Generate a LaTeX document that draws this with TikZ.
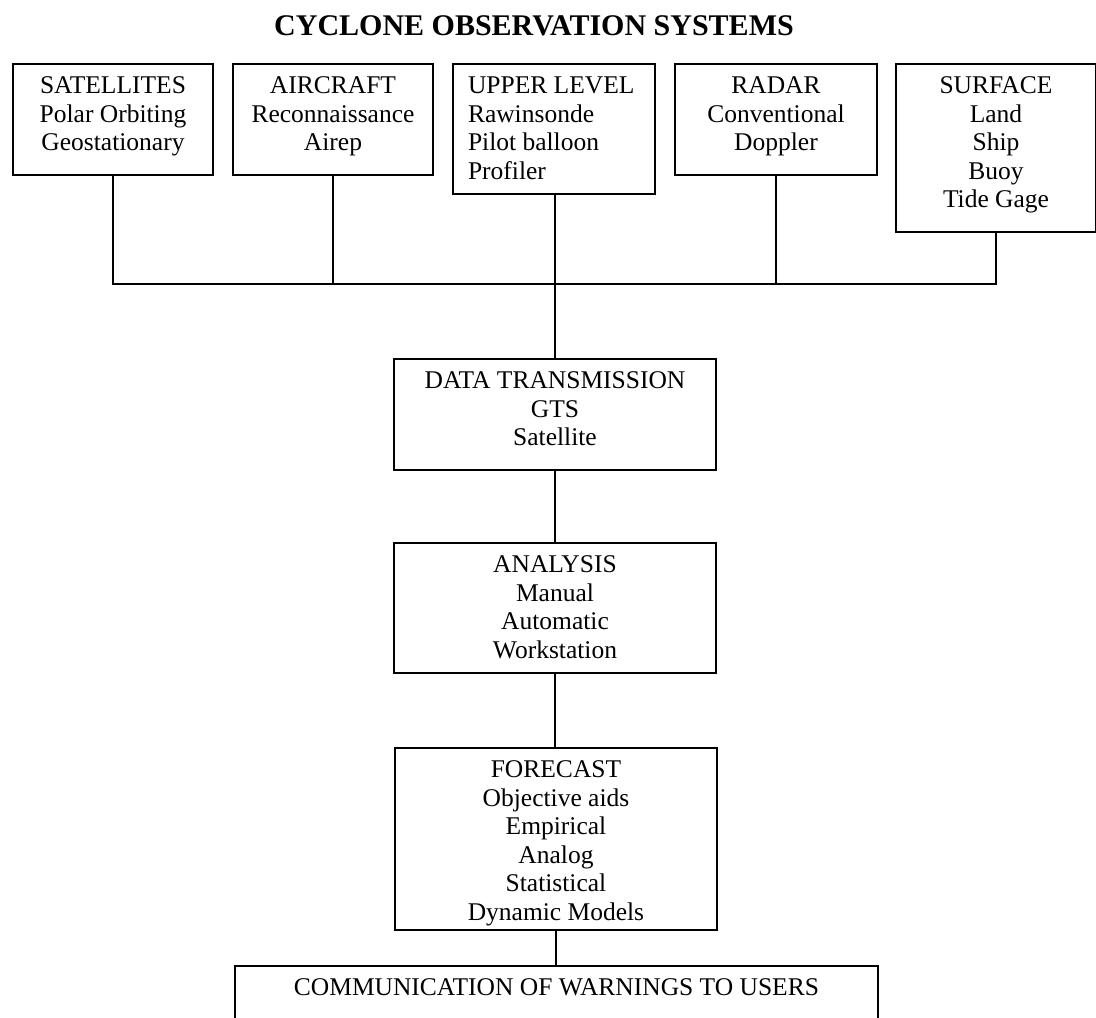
\documentclass[tikz,border=0pt]{standalone}
\usepackage{fontspec}
\setmainfont{Liberation Serif}
\newcommand{\bxt}[4][\centering]{\parbox[t][#2][t]{#3}{#1\rule{0pt}{29.5pt}#4\par}}
\begin{document}
\begin{tikzpicture}[x=1pt, y=-1pt,
  obox/.style={draw, line width=2pt, inner sep=0pt, anchor=north west,
    font=\fontsize{25.5}{28.5}\selectfont},
  conn/.style={line width=2pt}]
\clip (0,0) rectangle (1096,1018);
\node[font=\bfseries\fontsize{30}{36}\selectfont, anchor=base] (title) at (534,35) {CYCLONE OBSERVATION SYSTEMS};
\node[obox] (sat) at (12,63) {\bxt{111pt}{200pt}{SATELLITES\\Polar Orbiting\\Geostationary}};
\node[obox] (air) at (232,63) {\bxt{111pt}{200pt}{AIRCRAFT\\Reconnaissance\\Airep}};
\node[obox] (upp) at (452,63) {\bxt[\raggedright\leftskip=15pt\relax]{129.5pt}{202pt}{UPPER LEVEL\\Rawinsonde\\Pilot balloon\\Profiler}};
\node[obox] (rad) at (674,63) {\bxt{111pt}{202pt}{RADAR\\Conventional\\Doppler}};
\node[obox] (sur) at (895,63) {\bxt{167.5pt}{200pt}{SURFACE\\Land\\Ship\\Buoy\\Tide Gage}};
\node[obox] (dt) at (393,358) {\bxt{111pt}{322pt}{DATA TRANSMISSION\\GTS\\Satellite}};
\node[obox] (ana) at (393,542) {\bxt{130pt}{322pt}{ANALYSIS\\Manual\\Automatic\\Workstation}};
\node[obox] (fc) at (394,747) {\bxt{182pt}{322pt}{FORECAST\\Objective aids\\Empirical\\Analog\\Statistical\\Dynamic Models}};
\node[obox] (comm) at (234,965) {\bxt{80pt}{643pt}{COMMUNICATION OF WARNINGS TO USERS}};
\coordinate (bus) at (0,284);
\draw[conn] (sat.south) -- (sat.south |- bus) -- (sur.south |- bus) -- (sur.south);
\draw[conn] (air.south) -- (air.south |- bus);
\draw[conn] (rad.south) -- (rad.south |- bus);
\draw[conn] (dt.north) -- (dt.north |- upp.south);
\draw[conn] (dt.south) -- (ana.north);
\draw[conn] (ana.south) -- (ana.south |- fc.north);
\draw[conn] (fc.south) -- (fc.south |- comm.north);
\end{tikzpicture}
\end{document}
